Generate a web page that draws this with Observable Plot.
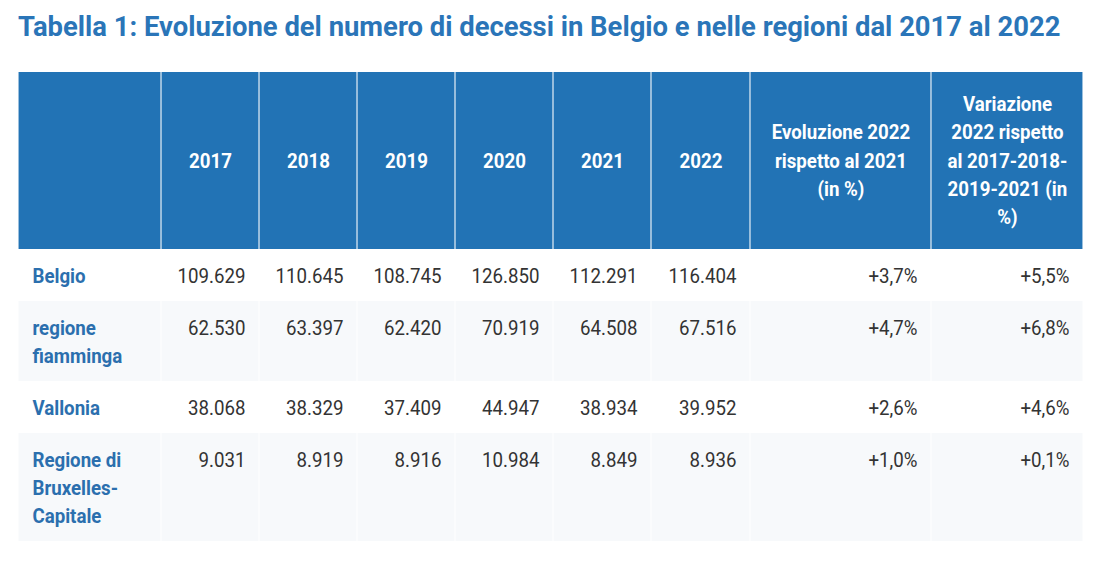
<!DOCTYPE html>
<html><head><meta charset="utf-8">
<script src="https://cdn.jsdelivr.net/npm/d3@7"></script>
<script src="https://cdn.jsdelivr.net/npm/@observablehq/plot@0.6"></script>
<style>
html,body{margin:0;padding:0;background:#fff;overflow:hidden;width:1100px;height:564px}
#wrap{position:absolute;left:0;top:0;transform-origin:0 0;}
#title{position:absolute;left:18px;top:14px;margin:0;font-family:Roboto,sans-serif;font-weight:700;font-size:27.4px;line-height:27px;color:#2a75b8;white-space:nowrap}
#chart{position:absolute;top:60px;left:0}
</style></head><body>
<h2 id="title"></h2>
<div id="wrap"><div id="chart"></div></div>
<script>
// ---- data ----
const title = "Tabella 1: Evoluzione del numero di decessi in Belgio e nelle regioni dal 2017 al 2022";
const regions = ["Belgio", "regione\nfiamminga", "Vallonia", "Regione di\nBruxelles-\nCapitale"];
const years = ["2017", "2018", "2019", "2020", "2021", "2022"];
const deaths2017 = [109629, 62530, 38068, 9031];
const deaths2018 = [110645, 63397, 38329, 8919];
const deaths2019 = [108745, 62420, 37409, 8916];
const deaths2020 = [126850, 70919, 44947, 10984];
const deaths2021 = [112291, 64508, 38934, 8849];
const deaths2022 = [116404, 67516, 39952, 8936];
const evolution2022vs2021 = [3.7, 4.7, 2.6, 1.0];
const variation2022vsAvg = [5.5, 6.8, 4.6, 0.1];
const extraHeaders = ["Evoluzione 2022\nrispetto al 2021\n(in %)", "Variazione\n2022 rispetto\nal 2017-2018-\n2019-2021 (in\n%)"];

// ---- layout ----
const S = 0.89;                 // horizontal squeeze of the reference table text
const colWidths = [143, 98, 98, 98, 98, 98, 99, 181, 152];
const headerH = 177, lineH = 28, rowPad = 24, headerLineH = 28.3;
const fs = 21;

const it = d3.formatLocale({decimal: ",", thousands: ".", grouping: [3], currency: ["€", ""]});
const fmtInt = it.format(",d");
const fmtPct = v => it.format("+.1f")(v) + "%";

const seriesByYear = [deaths2017, deaths2018, deaths2019, deaths2020, deaths2021, deaths2022];
const colEdges = d3.cumsum([0, ...colWidths]);
const totalW = colEdges[colEdges.length - 1];

const rowLines = regions.map(r => r.split("\n").length);
const rowHeights = rowLines.map(n => rowPad + lineH * n);
const rowTops = d3.cumsum([headerH, ...rowHeights]);
const totalH = rowTops[rowTops.length - 1];

const headerTexts = ["", ...years, ...extraHeaders];
const headerCells = headerTexts.map((t, i) => ({x1: colEdges[i], x2: colEdges[i + 1], y1: 0, y2: headerH}));
const headerLines = headerTexts.flatMap((t, i) => {
  const ls = t ? t.split("\n") : [];
  return ls.map((l, j) => ({x: (colEdges[i] + colEdges[i + 1]) / 2, y: headerH / 2 + (j - (ls.length - 1) / 2) * headerLineH, text: l}));
});
const grayCells = [];
regions.forEach((r, ri) => {
  if (ri % 2 === 1) colWidths.forEach((w, ci) => grayCells.push({x1: colEdges[ci], x2: colEdges[ci + 1], y1: rowTops[ri], y2: rowTops[ri + 1]}));
});
const labelLines = regions.flatMap((r, ri) => r.split("\n").map((l, j) => ({x: 14, y: rowTops[ri] + 26.5 + j * lineH, text: l})));
const valueCells = [];
regions.forEach((r, ri) => {
  const vals = [...seriesByYear.map(s => fmtInt(s[ri])), fmtPct(evolution2022vs2021[ri]), fmtPct(variation2022vsAvg[ri])];
  vals.forEach((v, k) => valueCells.push({x: colEdges[k + 2] - 14, y: rowTops[ri] + 26.5, text: v}));
});

const W = 1100 / S;
document.getElementById("wrap").style.width = W + "px";
document.getElementById("wrap").style.transform = `scale(${S},1)`;
document.getElementById("title").textContent = title;

const chart = Plot.plot({
  width: W,
  height: 504,
  marginLeft: 18 / S,
  marginRight: W - 18 / S - totalW / S,
  marginTop: 12,
  marginBottom: 504 - 12 - totalH,
  x: {type: "linear", domain: [0, totalW], axis: null},
  y: {type: "linear", domain: [0, totalH], reverse: true, axis: null},
  style: {fontFamily: "Roboto, sans-serif", background: "transparent", overflow: "visible"},
  marks: [
    Plot.rect(grayCells, {x1: "x1", x2: "x2", y1: "y1", y2: "y2", fill: "#f7f9fb", insetLeft: 0.6, insetRight: 0.6}),
    Plot.rect(headerCells, {x1: "x1", x2: "x2", y1: "y1", y2: "y2", fill: "#2273b5", insetLeft: 0.6, insetRight: 0.6}),
    Plot.text(headerLines, {x: "x", y: "y", text: "text", fill: "white", fontWeight: "bold", fontSize: fs, textAnchor: "middle"}),
    Plot.text(labelLines, {x: "x", y: "y", text: "text", fill: "#2b6fae", fontWeight: "bold", fontSize: fs, textAnchor: "start"}),
    Plot.text(valueCells, {x: "x", y: "y", text: "text", fill: "#333333", fontSize: fs, textAnchor: "end"})
  ]
});
document.getElementById("chart").appendChild(chart);
</script>
</body></html>
